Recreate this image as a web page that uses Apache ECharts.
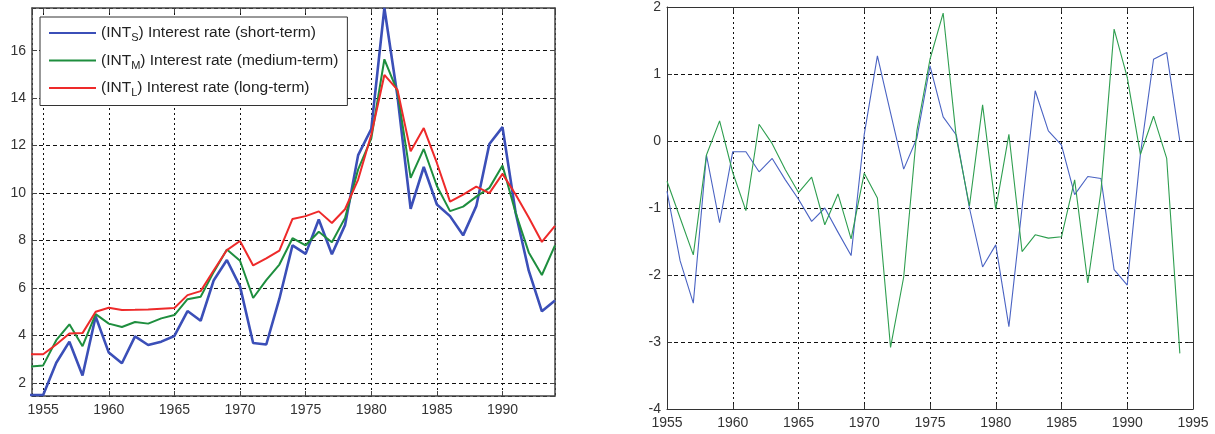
<!DOCTYPE html>
<html>
<head>
<meta charset="utf-8">
<script src="https://cdn.jsdelivr.net/npm/echarts@6/dist/echarts.min.js"></script>
<style>
html,body{margin:0;padding:0;background:#fff;}
#c{width:1215px;height:434px;}
</style>
</head>
<body>
<div id="c"></div>
<script>
// ---------- data ----------
var yearsLeft = [1954,1955,1956,1957,1958,1959,1960,1961,1962,1963,1964,1965,1966,1967,1968,1969,1970,1971,1972,1973,1974,1975,1976,1977,1978,1979,1980,1981,1982,1983,1984,1985,1986,1987,1988,1989,1990,1991,1992,1993,1994];
var intShort  = [1.49,1.49,2.85,3.74,2.31,4.8,3.28,2.83,3.96,3.6,3.74,3.98,5.03,4.62,6.33,7.18,6.07,3.68,3.62,5.55,7.8,7.44,8.89,7.42,8.65,11.6,12.7,17.8,14.07,9.34,11.1,9.52,9.03,8.22,9.45,12.07,12.78,9.17,6.73,5.02,5.47];
var intMedium = [2.69,2.74,3.8,4.47,3.55,4.9,4.5,4.36,4.57,4.5,4.72,4.86,5.53,5.63,6.68,7.62,7.15,5.58,6.33,6.99,8.1,7.8,8.37,7.93,8.95,11.0,12.3,15.64,14.28,10.64,11.86,10.3,9.24,9.43,9.85,10.22,11.16,9.17,7.5,6.55,7.8];
var intLong   = [3.21,3.21,3.62,4.08,4.1,5.0,5.17,5.07,5.08,5.1,5.13,5.16,5.7,5.87,6.75,7.6,7.98,6.95,7.25,7.58,8.91,9.03,9.23,8.74,9.32,10.57,12.46,14.98,14.35,11.76,12.74,11.27,9.64,9.94,10.27,10.0,10.81,9.94,8.97,7.94,8.62];

var yearsRight = [1955,1956,1957,1958,1959,1960,1961,1962,1963,1964,1965,1966,1967,1968,1969,1970,1971,1972,1973,1974,1975,1976,1977,1978,1979,1980,1981,1982,1983,1984,1985,1986,1987,1988,1989,1990,1991,1992,1993,1994];
var diffBlue  = [-0.75,-1.79,-2.42,-0.21,-1.22,-0.16,-0.16,-0.46,-0.26,-0.58,-0.87,-1.2,-1.0,-1.36,-1.71,0.1,1.27,0.42,-0.42,0.04,1.12,0.36,0.09,-1.0,-1.88,-1.55,-2.77,-1.0,0.75,0.15,-0.06,-0.8,-0.53,-0.56,-1.92,-2.15,-0.2,1.22,1.32,0.0];
var diffGreen = [-0.6,-1.15,-1.7,-0.21,0.3,-0.47,-1.04,0.25,-0.04,-0.43,-0.77,-0.54,-1.25,-0.79,-1.46,-0.48,-0.85,-3.08,-2.03,0.15,1.22,1.91,0.05,-0.97,0.54,-1.02,0.1,-1.65,-1.4,-1.45,-1.43,-0.58,-2.12,-0.75,1.67,0.95,-0.2,0.37,-0.26,-3.17];

var seriesNames = ['INT_S','INT_M','INT_L'];
var legendSubs  = ['S','M','L'];
var legendTexts = ['Interest rate (short-term)','Interest rate (medium-term)','Interest rate (long-term)'];

// ---------- helpers ----------
function zip(xs, ys){ return xs.map(function(x,i){ return [x, ys[i]]; }); }
var FONT = '"Liberation Sans", Arial, sans-serif';
var hDash = {color:'#111', width:1, type:[4,3]};
var vDash = {color:'#111', width:1, type:[2,3]};

function plain(v){ return String(Math.round(v*1000)/1000); }
function fmt5(v){ return (Math.abs(v % 5) < 1e-6) ? String(Math.round(v)) : ''; }
function fmt2(v){ return (Math.abs(v % 2) < 1e-6) ? String(Math.round(v)) : ''; }

function mkAxis(o){
  var base = {
    type:'value',
    gridIndex:o.grid,
    position:o.pos,
    min:o.min, max:o.max,
    axisLine:{show:true, onZero:false, lineStyle:{color:o.border, width:o.bw}},
    axisTick:{show:true, inside:true, length:5, lineStyle:{color:o.border}},
    axisLabel:{show:!!o.labels, color:'#333', fontSize:14, fontFamily:FONT, margin:o.margin||6,
               showMinLabel:o.showMin!==false, showMaxLabel:o.showMax!==false,
               formatter:o.fmt || plain},
    splitLine:{show:!!o.split, lineStyle:o.splitStyle}
  };
  if (o.interval!=null) base.interval = o.interval;
  if (o.splitNumber) base.splitNumber = o.splitNumber;
  return base;
}

var chart = echarts.init(document.getElementById('c'), null, {renderer:'canvas'});
var option = {
  animation:false,
  backgroundColor:'#fff',
  textStyle:{fontFamily:FONT},
  grid:[
    {left:32, top:8, width:523, height:388, containLabel:false},
    {left:667, top:4, width:526, height:405, containLabel:false}
  ],
  legend:{
    data:seriesNames,
    orient:'vertical',
    left:40, top:17,
    padding:[8,9,7,9],
    itemWidth:47, itemHeight:14, itemGap:9,
    icon:'path://M0,0L60,0L60,2.6L0,2.6Z',
    backgroundColor:'#fff',
    borderColor:'#333', borderWidth:1,
    selectedMode:false,
    textStyle:{color:'#222', fontSize:15.5, fontFamily:FONT,
      rich:{
        n:{fontSize:15.5, lineHeight:21, color:'#222', fontFamily:FONT},
        s:{fontSize:11, lineHeight:8, verticalAlign:'bottom', color:'#222', fontFamily:FONT}
      }},
    formatter:function(name){
      var i = seriesNames.indexOf(name);
      return '{n|(INT}{s|' + legendSubs[i] + '}{n|) ' + legendTexts[i] + '}';
    }
  },
  xAxis:[
    mkAxis({grid:0,pos:'bottom',min:1954.15,max:1994,splitNumber:8,labels:true,split:true,splitStyle:vDash,border:'#444',bw:1.5,fmt:fmt5,showMin:false,showMax:false,margin:7}),
    mkAxis({grid:0,pos:'top',min:1954.15,max:1994,splitNumber:8,labels:false,split:false,border:'#444',bw:1.5}),
    mkAxis({grid:1,pos:'bottom',min:1955,max:1995,interval:5,labels:true,split:true,splitStyle:vDash,border:'#333',bw:1,margin:7}),
    mkAxis({grid:1,pos:'top',min:1955,max:1995,interval:5,labels:false,split:false,border:'#333',bw:1})
  ],
  yAxis:[
    mkAxis({grid:0,pos:'left',min:1.45,max:17.8,splitNumber:8,labels:true,split:true,splitStyle:hDash,border:'#444',bw:1.5,fmt:fmt2,showMin:false,showMax:false,margin:6}),
    mkAxis({grid:0,pos:'right',min:1.45,max:17.8,splitNumber:8,labels:false,split:false,border:'#444',bw:1.5}),
    mkAxis({grid:1,pos:'left',min:-4,max:2,interval:1,labels:true,split:true,splitStyle:hDash,border:'#333',bw:1,margin:6}),
    mkAxis({grid:1,pos:'right',min:-4,max:2,interval:1,labels:false,split:false,border:'#333',bw:1})
  ],
  series:[
    {name:'INT_S', type:'line', xAxisIndex:0, yAxisIndex:0, data:zip(yearsLeft,intShort), symbol:'none', clip:true,
     lineStyle:{color:'#3B4FB8', width:2.6}, itemStyle:{color:'#3B4FB8'}, z:3},
    {name:'INT_M', type:'line', xAxisIndex:0, yAxisIndex:0, data:zip(yearsLeft,intMedium), symbol:'none', clip:true,
     lineStyle:{color:'#1E8E3E', width:2}, itemStyle:{color:'#1E8E3E'}, z:4},
    {name:'INT_L', type:'line', xAxisIndex:0, yAxisIndex:0, data:zip(yearsLeft,intLong), symbol:'none', clip:true,
     lineStyle:{color:'#EE2A2A', width:2}, itemStyle:{color:'#EE2A2A'}, z:5},
    {name:'dS', type:'line', xAxisIndex:2, yAxisIndex:2, data:zip(yearsRight,diffBlue), symbol:'none', clip:true,
     lineStyle:{color:'#4A63C3', width:1.1}, itemStyle:{color:'#4A63C3'}, z:3},
    {name:'dM', type:'line', xAxisIndex:2, yAxisIndex:2, data:zip(yearsRight,diffGreen), symbol:'none', clip:true,
     lineStyle:{color:'#2E9E4F', width:1.1}, itemStyle:{color:'#2E9E4F'}, z:4}
  ]
};
chart.setOption(option);
</script>
</body>
</html>
